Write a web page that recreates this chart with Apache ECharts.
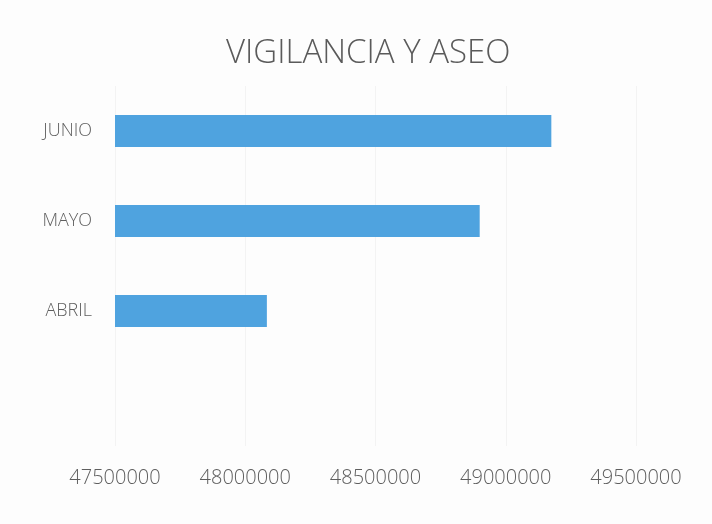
<!DOCTYPE html>
<html>
<head>
<meta charset="utf-8">
<script src="https://cdn.jsdelivr.net/npm/echarts@6/dist/echarts.min.js"></script>
<style>
html,body{margin:0;padding:0;background:#fdfdfd;}
#chart{width:712px;height:524px;}
</style>
</head>
<body>
<div id="chart"></div>
<script>
const titleText = 'VIGILANCIA Y ASEO';
const categories = ['', 'ABRIL', 'MAYO', 'JUNIO'];
const values = [null, 48083000, 48900000, 49175000];
const axisMin = 47500000;
const axisMax = 49500000;
const axisStep = 500000;

const chart = echarts.init(document.getElementById('chart'));
chart.setOption({
  backgroundColor: '#fdfdfd',
  title: {
    text: titleText,
    left: 221,
    top: 32,
    textStyle: {
      fontFamily: 'Open Sans',
      fontWeight: 300,
      fontSize: 33,
      color: '#5a5a5a'
    }
  },
  grid: { left: 115, right: 76, top: 86, bottom: 78, containLabel: false },
  xAxis: {
    type: 'value',
    min: axisMin,
    max: axisMax,
    interval: axisStep,
    axisLine: { show: false },
    axisTick: { show: false },
    splitLine: { show: true, lineStyle: { color: '#f3f3f3', width: 1 } },
    axisLabel: {
      margin: 22,
      fontFamily: 'Open Sans',
      fontWeight: 300,
      fontSize: 20,
      color: '#5e5e5e',
      formatter: function (v) { return String(v); }
    }
  },
  yAxis: {
    type: 'category',
    data: categories,
    axisLine: { show: false },
    axisTick: { show: false },
    splitLine: { show: false },
    axisLabel: {
      margin: 23,
      fontFamily: 'Open Sans',
      fontWeight: 300,
      fontSize: 18,
      color: '#5e5e5e'
    }
  },
  series: [{
    type: 'bar',
    data: values,
    barWidth: 32,
    itemStyle: { color: '#4fa3df' },
    silent: true
  }],
  animation: false
});
</script>
</body>
</html>
